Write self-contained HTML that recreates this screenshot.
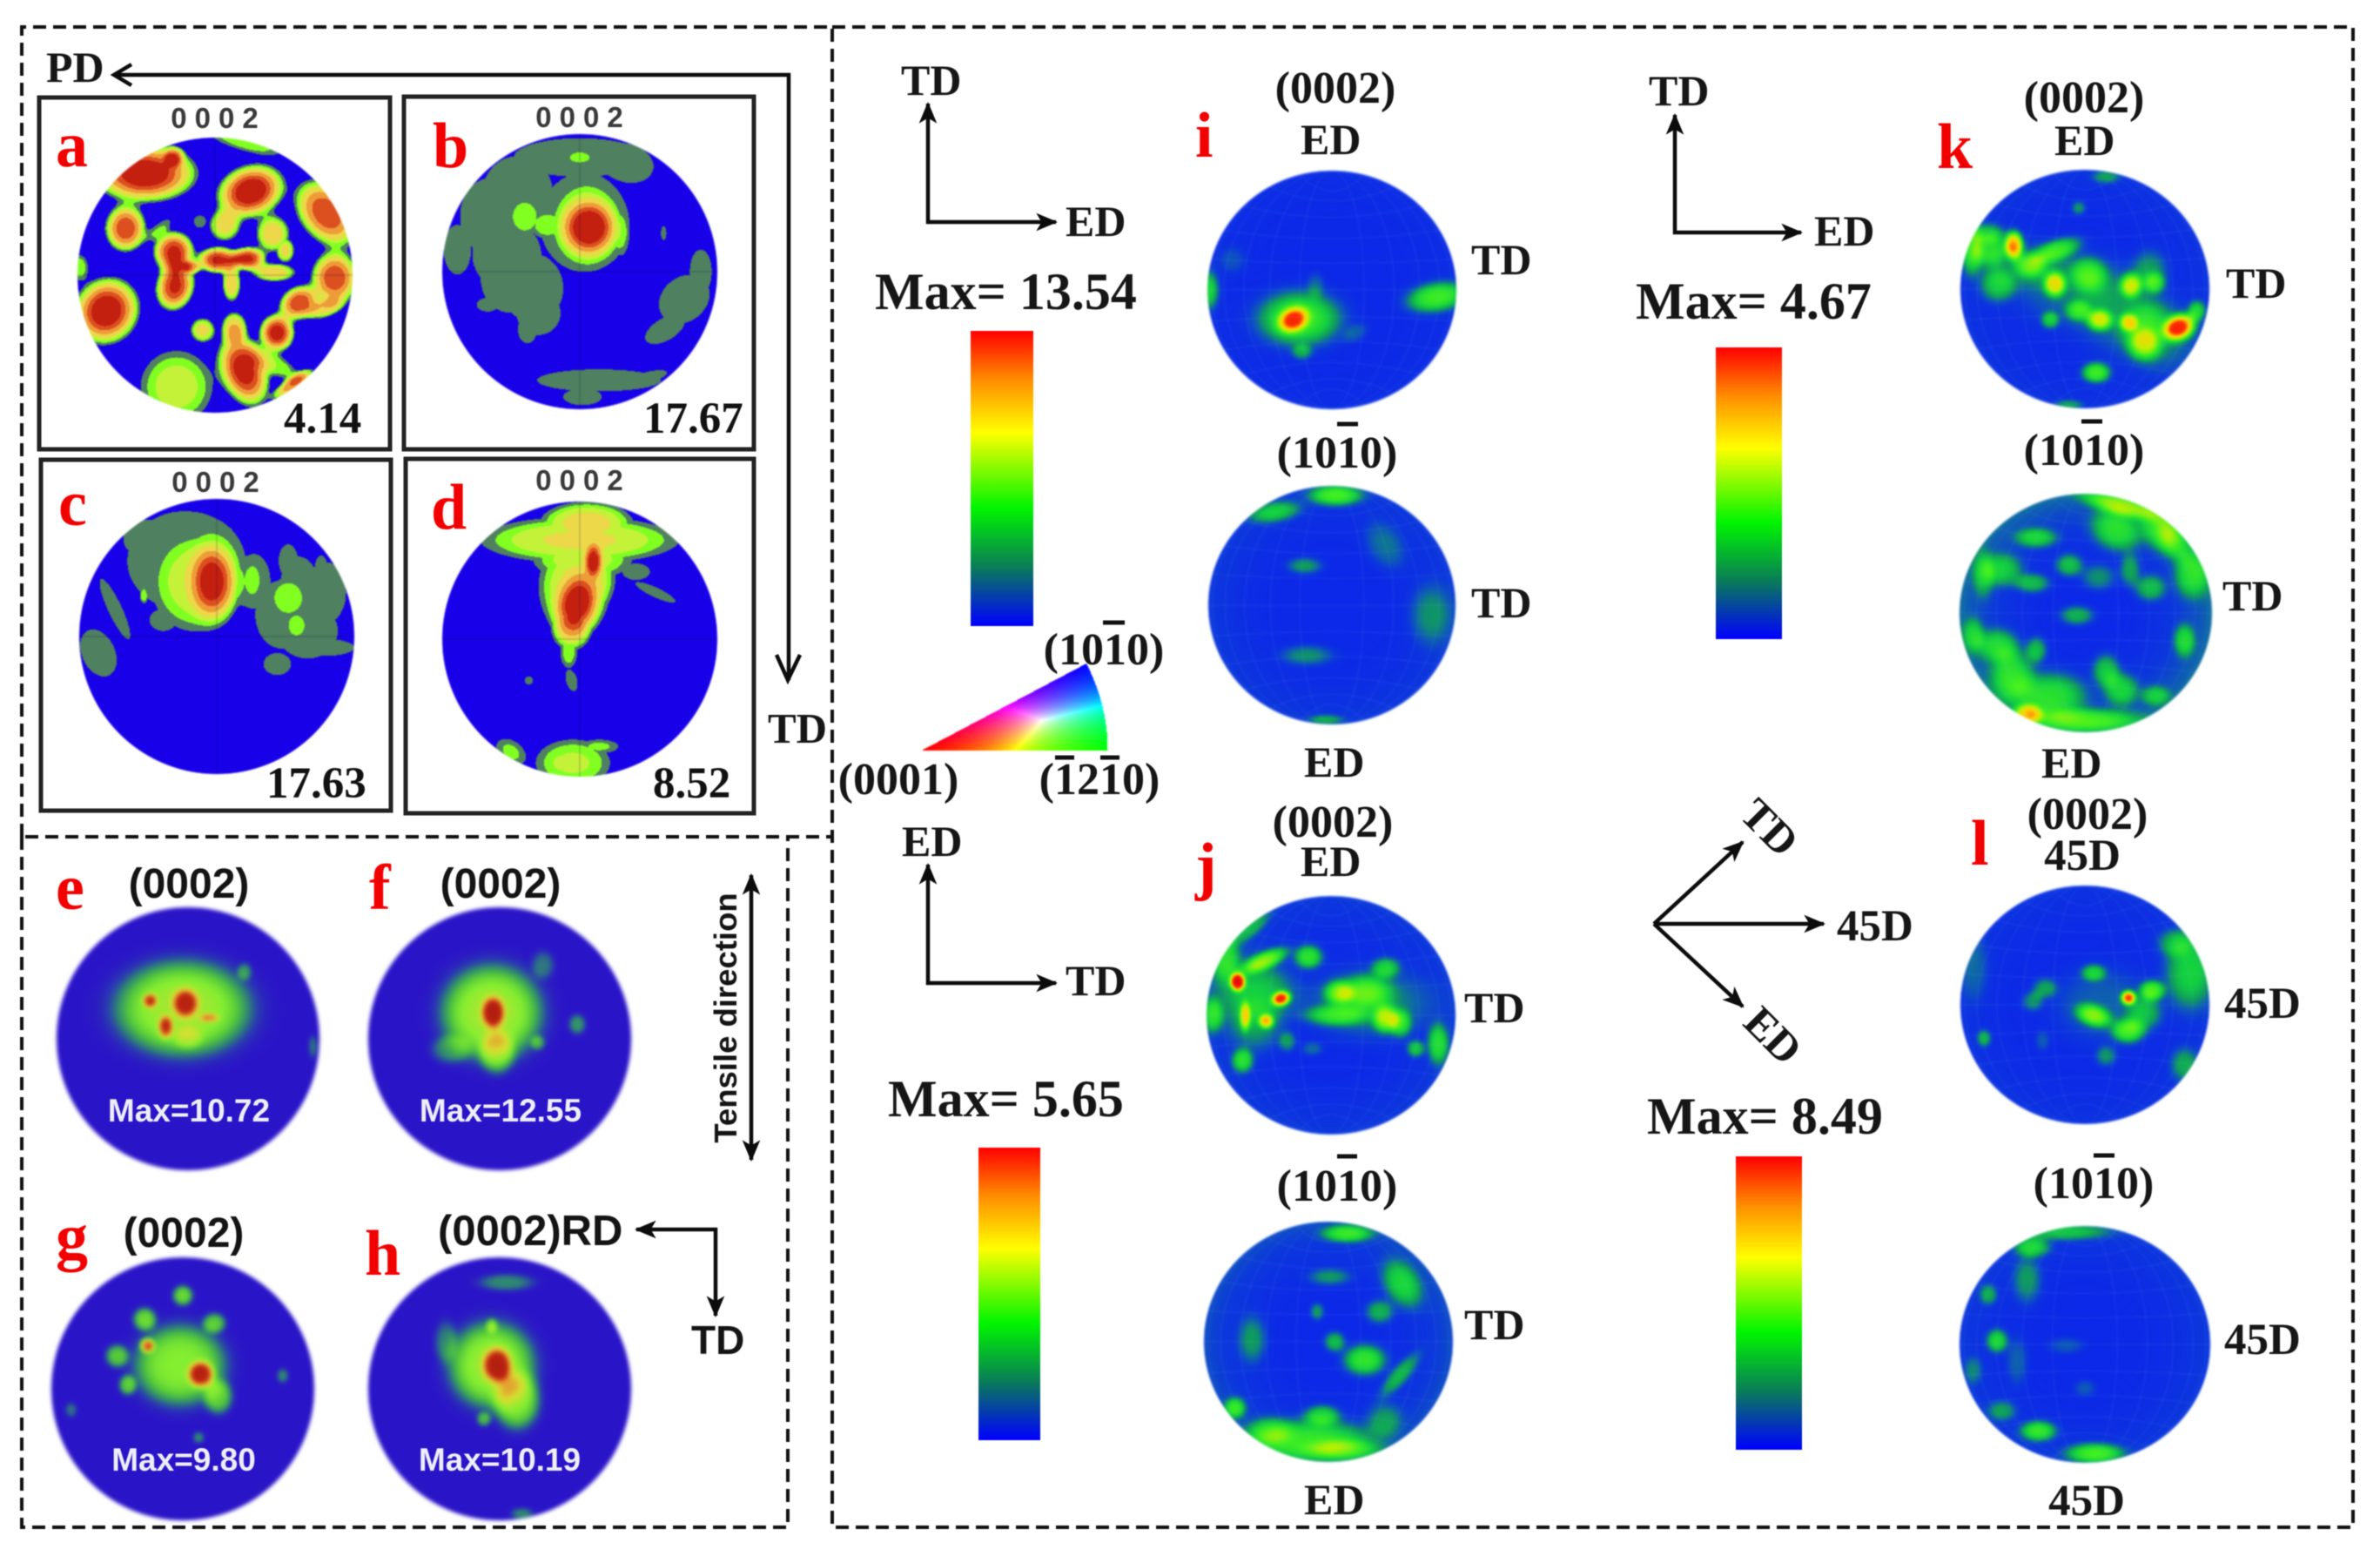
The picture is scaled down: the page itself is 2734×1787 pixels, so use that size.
<!DOCTYPE html>
<html lang="en">
<head>
<meta charset="utf-8">
<title>Pole figures</title>
<style>
html,body{margin:0;padding:0;background:#fff;}
#stage{position:relative;width:2734px;height:1787px;overflow:hidden;background:#fff;}
#stage canvas{position:absolute;}
#overlay{position:absolute;left:0;top:0;filter:blur(0.6px);}
.s{font-family:"Liberation Serif",serif;font-weight:700;fill:#161616;}
.h{font-family:"Liberation Sans",sans-serif;font-weight:700;fill:#141414;}
.z{font-family:"Liberation Sans",sans-serif;font-weight:700;fill:#3a3a3a;font-size:33px;letter-spacing:9px;text-anchor:middle;}
.m{font-family:"Liberation Sans",sans-serif;font-weight:700;fill:#eeeef8;font-size:37px;text-anchor:middle;}
.r{font-family:"Liberation Serif",serif;font-weight:700;fill:#f20000;font-size:74px;}
.v{font-family:"Liberation Serif",serif;font-weight:700;fill:#111;font-size:51px;}
.p{font-size:52px;text-anchor:middle;}
.l{font-size:50px;}
.x{font-size:60px;}
.d{fill:none;stroke:#111;stroke-width:4;stroke-dasharray:15 8;}
.b{fill:none;stroke:#222;stroke-width:5;}
.a{fill:none;stroke:#0c0c0c;stroke-width:4.5;}
.o{stroke:#111;stroke-width:5;}
</style>
</head>
<body>
<div id="stage">
<svg id="overlay" width="2734" height="1787" viewBox="0 0 2734 1787" xmlns="http://www.w3.org/2000/svg">
<defs>
<linearGradient id="cbar" x1="0" y1="0" x2="0" y2="1">
<stop offset="0" stop-color="#ff0000"/><stop offset="0.17" stop-color="#ff9000"/><stop offset="0.345" stop-color="#ffff00"/><stop offset="0.6" stop-color="#00f500"/><stop offset="0.8" stop-color="#0a7c58"/><stop offset="1" stop-color="#0000ff"/>
</linearGradient>
<marker id="tip" viewBox="0 0 12 12" refX="11" refY="6" markerWidth="5.5" markerHeight="5.5" markerUnits="strokeWidth" orient="auto-start-reverse"><path d="M0 1 L12 6 L0 11 L3 6 Z" fill="#0c0c0c"/></marker>
</defs>

<path class="d" d="M25 961 V31 H956 V961 H25"/>
<path class="d" d="M25 961 V1754 H905 V961"/>
<path class="d" d="M956 31 H2703 V1754 H956 V961"/>

<rect class="b" x="45" y="112" width="403" height="404"/>
<rect class="b" x="464" y="111" width="402" height="405"/>
<rect class="b" x="47" y="528" width="402" height="403"/>
<rect class="b" x="466" y="527" width="400" height="407"/>

<text class="s" style="font-size:50px" x="53" y="94">PD</text>
<path class="a" d="M131 86 H906 V781 M151 74 L131 86 L151 98 M892 752 L905 781 L919 752"/>
<text class="s" style="font-size:49px" x="882" y="853">TD</text>

<text class="z" x="251" y="147">0002</text>
<text class="z" x="670" y="146">0002</text>
<text class="z" x="252" y="565">0002</text>
<text class="z" x="670" y="563">0002</text>

<text class="r" x="64" y="191">a</text>
<text class="r" x="497" y="192">b</text>
<text class="r" x="67" y="603">c</text>
<text class="r" x="495" y="607">d</text>
<text class="r" x="64" y="1044">e</text>
<text class="r" x="424" y="1044">f</text>
<text class="r" x="64" y="1445">g</text>
<text class="r" x="419" y="1464">h</text>
<text class="r" x="1373" y="180">i</text>
<text class="r" x="1373" y="1019">j</text>
<text class="r" x="2225" y="193">k</text>
<text class="r" x="2264" y="993">l</text>

<text class="v" x="326" y="497">4.14</text>
<text class="v" x="739" y="497">17.67</text>
<text class="v" x="306" y="916">17.63</text>
<text class="v" x="750" y="916">8.52</text>

<text class="h" style="font-size:48px;text-anchor:middle" x="217" y="1031">(0002)</text>
<text class="h" style="font-size:48px;text-anchor:middle" x="575" y="1031">(0002)</text>
<text class="h" style="font-size:48px;text-anchor:middle" x="211" y="1432">(0002)</text>
<text class="h" style="font-size:49px" x="503" y="1430">(0002)RD</text>
<text class="h" style="font-size:46px" x="794" y="1555">TD</text>
<path class="a" style="marker-start:url(#tip);marker-end:url(#tip)" d="M731 1412 H822 V1511"/>
<text class="h" style="font-size:36.5px;text-anchor:middle" transform="translate(846 1169) rotate(-90)">Tensile direction</text>
<path class="a" style="marker-start:url(#tip);marker-end:url(#tip)" d="M863 1005 V1332"/>

<text class="m" x="217" y="1288">Max=10.72</text>
<text class="m" x="575" y="1288">Max=12.55</text>
<text class="m" x="211" y="1689">Max=9.80</text>
<text class="m" x="574" y="1689">Max=10.19</text>

<!-- panel i group -->
<text class="s l" x="1035" y="109">TD</text>
<path class="a" style="marker-start:url(#tip);marker-end:url(#tip)" d="M1066 119 V255 H1213"/>
<text class="s l" x="1224" y="271">ED</text>
<text class="s x" x="1005" y="355">Max= 13.54</text>
<rect x="1115" y="380" width="72" height="339" fill="url(#cbar)"/>
<text class="s p" x="1534" y="118">(0002)</text>
<text class="s l" x="1494" y="177">ED</text>
<text class="s l" x="1690" y="315">TD</text>
<text class="s p" x="1536" y="537">(1010)</text>
<line class="o" x1="1536" y1="487" x2="1560" y2="487"/>
<text class="s l" x="1690" y="709">TD</text>
<text class="s l" x="1498" y="892">ED</text>

<text class="s p" x="1268" y="763">(1010)</text>
<line class="o" x1="1267" y1="715" x2="1292" y2="715"/>
<text class="s p" x="1032" y="912">(0001)</text>
<text class="s p" x="1263" y="912">(1210)</text>
<line class="o" x1="1212" y1="870" x2="1234" y2="870"/>
<line class="o" x1="1264" y1="870" x2="1286" y2="870"/>

<!-- panel k group -->
<text class="s l" x="1894" y="121">TD</text>
<path class="a" style="marker-start:url(#tip);marker-end:url(#tip)" d="M1924 132 V267 H2069"/>
<text class="s l" x="2084" y="282">ED</text>
<text class="s x" x="1879" y="366">Max= 4.67</text>
<rect x="1971" y="399" width="76" height="335" fill="url(#cbar)"/>
<text class="s p" x="2394" y="129">(0002)</text>
<text class="s l" x="2360" y="178">ED</text>
<text class="s l" x="2557" y="342">TD</text>
<text class="s p" x="2394" y="534">(1010)</text>
<line class="o" x1="2391" y1="484" x2="2415" y2="484"/>
<text class="s l" x="2553" y="701">TD</text>
<text class="s l" x="2345" y="893">ED</text>

<!-- panel j group -->
<text class="s l" x="1036" y="983">ED</text>
<path class="a" style="marker-start:url(#tip);marker-end:url(#tip)" d="M1066 993 V1129 H1213"/>
<text class="s l" x="1224" y="1143">TD</text>
<text class="s x" x="1020" y="1282">Max= 5.65</text>
<rect x="1124" y="1318" width="71" height="336" fill="url(#cbar)"/>
<text class="s p" x="1531" y="961">(0002)</text>
<text class="s l" x="1494" y="1006">ED</text>
<text class="s l" x="1682" y="1174">TD</text>
<text class="s p" x="1536" y="1379">(1010)</text>
<line class="o" x1="1536" y1="1328" x2="1559" y2="1328"/>
<text class="s l" x="1682" y="1538">TD</text>
<text class="s l" x="1498" y="1739">ED</text>

<!-- panel l group -->
<path class="a" style="marker-end:url(#tip)" d="M1900 1061 H2095"/>
<path class="a" style="marker-end:url(#tip)" d="M1900 1061 L2002 967"/>
<path class="a" style="marker-end:url(#tip)" d="M1900 1061 L2002 1156"/>
<text class="s" style="font-size:51px" x="2110" y="1080">45D</text>
<text class="s l" style="text-anchor:middle" transform="translate(2021 962) rotate(45)">TD</text>
<text class="s l" style="text-anchor:middle" transform="translate(2025 1201) rotate(45)">ED</text>
<text class="s x" x="1892" y="1302">Max= 8.49</text>
<rect x="1994" y="1328" width="76" height="337" fill="url(#cbar)"/>
<text class="s p" x="2398" y="952">(0002)</text>
<text class="s" style="font-size:51px;text-anchor:middle" x="2392" y="999">45D</text>
<text class="s" style="font-size:51px" x="2555" y="1169">45D</text>
<text class="s p" x="2405" y="1376">(1010)</text>
<line class="o" x1="2405" y1="1327" x2="2429" y2="1327"/>
<text class="s" style="font-size:51px" x="2555" y="1555">45D</text>
<text class="s" style="font-size:51px;text-anchor:middle" x="2397" y="1740">45D</text>
</svg>
</div>
<script>
// Pole-figure intensity peaks: [u%, v%, radiusU%, radiusV%, tiltDeg, intensity]
const peaksA=[[-51,-74,36,20,0,1],[26,-61,24,18,-20,1],[81,-45,26,18,50,.85],[-65,-34,14,16,0,.85],[7,-36,10,10,0,.5],[-30,-17,14,14,0,.9],[2,-11,14,9,0,.9],[24,-12,12,8,0,.9],[-29,8,13,17,15,.9],[42,-30,11,12,0,.55],[43,-2,14,6,0,.55],[51,-18,6,8,0,.5],[87,2,16,18,0,.85],[61,20,14,11,-30,.85],[45,42,12,13,0,.95],[-79,26,22,24,40,1],[-9,40,8,8,0,.5],[14,38,8,10,0,.55],[21,69,16,26,-20,.95],[-28,81,24,24,0,.42],[57,79,16,5,-35,.7],[12,6,6,12,0,.55],[22,-97,24,6,15,.34],[80,24,12,6,-20,.5],[-99,-6,6,8,0,.34],[-11,-39,4,4,0,.26],[-17,-6,6,4,0,.5],[-40,-34,8,3,-40,.26],[-30,-86,6,6,0,.5],[44,65,16,6,30,.34]];
const peaksB=[[0,-83,48,14,0,.26],[34,-79,20,14,15,.26],[-45,-59,25,25,0,.26],[-65,-40,22,28,0,.26],[-53,-12,25,25,0,.26],[-34,12,22,25,0,.26],[-50,5,22,25,0,.26],[-30,30,16,16,0,.26],[-38,42,7,10,0,.26],[-89,-16,10,18,0,.26],[-67,24,8,5,0,.26],[76,20,20,16,-40,.26],[88,0,8,16,0,.26],[62,42,16,8,-30,.26],[14,79,45,8,0,.26],[2,91,14,6,0,.26],[49,77,15,4,-15,.26],[61,-28,2,5,0,.26],[5,-34,27,33,0,.45],[7,-32,18,18,0,.6],[-40,-40,12,14,0,.34],[-24,-34,12,10,0,.34],[0,-83,10,5,0,.34],[30,-28,6,16,0,.3],[3,-36,32,36,0,.26]];
const peaksC=[[-2,-40,16,26,0,.6],[-17,-40,31,36,0,.42],[-23,-55,42,36,0,.26],[-50,-71,18,14,0,.26],[-23,-83,22,8,0,.26],[26,-41,7,14,0,.34],[27,-40,12,20,0,.26],[52,-28,14,15,0,.34],[58,-8,8,10,0,.34],[52,-55,7,12,0,.26],[48,-16,20,25,0,.26],[66,-4,22,20,0,.26],[60,-36,14,22,0,.26],[80,-32,14,22,0,.26],[80,8,20,6,0,.26],[44,20,10,8,0,.26],[76,-47,5,12,0,.26],[-74,-20,5,24,-25,.26],[-86,12,12,18,-25,.26],[-53,-30,3,6,0,.34],[-39,-12,10,8,0,.26]];
const peaksD=[[-2,-24,14,22,15,.58],[10,-57,6,11,0,.56],[0,-72,72,17,0,.48],[5,-84,34,16,0,.52],[2,-58,36,15,0,.42],[-4,-38,26,34,0,.46],[8,-45,18,26,0,.44],[-6,-8,14,16,0,.42],[-8,10,6,11,0,.32],[-6,30,4,8,-15,.26],[-37,30,3,3,0,.24],[55,-34,16,3.5,25,.24],[41,-49,10,6,0,.26],[-5,90,27,17,0,.38],[-14,90,8,8,0,.44],[14,78,14,5,0,.3],[-50,82,12,8,35,.3],[64,84,8,4,-30,.3]];
const peaksE=[[-4,-23,47,33,0,.48],[-29,-29,5,5,0,.45],[-2,-27,9,10,0,.5],[-17,-9,5,8,0,.45],[16,-16,7,3,0,.3],[0,-1,10,8,0,.15],[43,-51,5,6,0,.18],[95,6,3,8,0,.15]];
const peaksF=[[-6,-20,35,33,0,.48],[-2,10,12,15,0,.3],[-5,-20,8,11,0,.55],[59,-11,6,7,0,.2],[29,3,5,5,0,.2],[-37,8,14,10,0,.17],[33,-56,8,10,0,.15]];
const peaksG=[[-2,-18,32,28,0,.42],[0,-71,7,7,0,.35],[-29,-53,8,8,0,.35],[24,-50,8,7,0,.3],[-50,-25,8,8,0,.3],[-42,-3,6,7,0,.3],[27,6,10,12,0,.3],[-27,-33,5,5,0,.6],[14,-11,9,9,-40,.6],[76,-10,4,5,0,.18],[-85,16,4,5,0,.15],[12,37,4,4,0,.18]];
const peaksH=[[-6,-18,30,30,0,.46],[13,9,16,20,0,.38],[-12,23,5,5,0,.25],[-2,-18,10,12,0,.55],[5,-81,20,6,0,.18],[-6,-48,4,5,0,.25],[17,95,8,4,0,.18],[-41,-36,8,15,0,.15]];
const peaksITop=[[-26,24,25,17,0,.42],[-31,25,9,7,-30,.55],[-24,52,6,5,0,.2],[84,6,18,9,-10,.42],[-99,0,6,12,0,.32],[19,36,8,5,-30,.12],[-13,-4,5,8,0,.12],[-80,-25,8,8,0,.1]];
const peaksIBottom=[[3,-92,15,6,0,.4],[-46,-78,15,6,-10,.28],[-22,-33,10,5,0,.22],[-20,42,15,6,0,.2],[43,-50,10,15,-30,.15],[80,8,12,18,0,.18],[-5,96,10,3,0,.2]];
const peaksJTop=[[-75,-28,4,5,0,.85],[-53,-46,14,5,-25,.42],[-40,-14,5,4,-20,.72],[-52,5,4,4,0,.5],[-69,1,3,8,0,.42],[-18,-49,8,7,0,.38],[-71,38,6,7,0,.35],[-95,0,6,10,0,.3],[-65,-73,14,5,-40,.22],[-85,-48,8,14,0,.28],[6,-19,8,7,0,.33],[28,-19,14,10,0,.3],[44,3,7,8,0,.4],[44,-40,8,6,0,.28],[4,0,18,6,0,.28],[56,7,6,8,0,.28],[86,24,6,12,0,.33],[68,28,5,5,0,.28],[-35,22,5,6,0,.2],[-15,28,6,4,0,.15],[30,-10,35,20,0,.2],[-57,-18,20,15,0,.16],[-65,-20,25,25,0,.14],[-60,10,15,15,0,.16]];
const peaksJBottom=[[15,-90,14,5,0,.35],[59,-48,10,15,-30,.3],[1,-54,12,5,0,.2],[41,-25,8,7,0,.25],[-9,-25,4,5,0,.22],[-61,-2,8,14,0,.2],[5,0,6,6,0,.28],[29,15,12,9,0,.4],[57,28,16,5,-50,.25],[-75,55,6,6,0,.35],[-15,82,35,12,0,.36],[-5,61,10,6,0,.3],[13,90,20,6,0,.22],[-47,74,12,8,0,.2],[45,65,10,10,0,.18]];
const peaksKTop=[[-57,-37,5,8,0,.7],[-76,-33,10,10,0,.3],[-91,-33,6,15,0,.33],[-70,-3,10,10,0,.26],[-22,-33,14,6,-20,.34],[-44,-20,9,7,0,.3],[-24,-4,6,7,0,.5],[3,-12,10,10,0,.3],[37,-3,6,7,0,.45],[56,-5,6,6,0,.26],[12,26,7,6,0,.45],[-5,18,7,6,0,.26],[35,28,5,5,0,.4],[48,47,9,9,0,.34],[76,32,9,7,-30,.8],[90,18,5,6,0,.3],[9,70,8,6,0,.42],[-28,26,5,5,0,.26],[-5,-68,4,4,0,.2],[17,-94,8,4,0,.2],[-13,97,8,3,0,.2],[52,-16,10,12,0,.2],[48,30,14,14,0,.16],[-10,0,30,22,0,.16],[-50,-20,25,15,0,.14],[30,20,25,25,0,.15],[60,40,20,20,0,.16],[-78,-47,10,6,0,.22]];
const peaksKBottom=[[28,-90,22,6,15,.4],[24,-69,15,12,30,.32],[59,-69,10,15,-30,.28],[-39,-63,12,6,0,.28],[-13,-40,8,7,0,.28],[-66,-36,12,10,0,.26],[-42,-25,10,6,0,.26],[35,-36,6,10,0,.22],[51,-21,9,8,0,.26],[84,-32,10,14,0,.28],[-7,2,10,6,0,.26],[78,23,6,10,0,.28],[-70,27,12,10,0,.28],[-39,31,6,8,0,.26],[-89,18,6,10,0,.22],[16,48,8,10,0,.28],[-58,52,12,16,0,.32],[-27,69,20,14,0,.32],[0,90,30,7,0,.34],[-46,85,8,6,0,.5],[28,64,10,10,0,.28],[55,69,8,6,0,.22],[-81,-32,6,14,0,.2],[10,-30,10,8,0,.2],[70,-60,8,14,-30,.2]];
const peaksLTop=[[35,-6,4,4,0,.75],[54,-12,7,6,0,.4],[7,9,10,6,20,.4],[7,-27,7,5,0,.28],[35,22,9,7,0,.38],[48,7,10,10,0,.22],[15,0,28,22,0,.14],[-32,-14,7,6,0,.22],[-42,-3,6,6,0,.2],[84,-27,14,22,0,.3],[72,-52,10,8,0,.2],[80,50,8,10,0,.22],[-81,28,4,5,0,.25],[17,43,6,6,0,.2],[-89,-31,8,20,0,.12],[-34,30,4,6,0,.12]];
const peaksLBottom=[[-15,-95,25,5,0,.25],[-42,-82,10,6,0,.3],[-46,-54,8,14,0,.2],[-77,-42,5,6,0,.22],[-70,-3,6,7,0,.33],[-89,22,5,8,0,.15],[-37,73,10,6,0,.38],[-66,56,8,6,0,.2],[8,92,16,6,0,.4],[-54,14,6,14,0,.13],[-15,1,10,5,0,.12],[0,37,6,5,0,.12]];

// Colour scales: [intensity, hex]
const contourLevels=[[0,'#1800e8'],[.2,'#4f8060'],[.28,'#80ff20'],[.36,'#c4f238'],[.46,'#ecd848'],[.6,'#ee9c38'],[.75,'#dc5020'],[.87,'#c42010']];
const blurScale=[[0,'#2a14c8'],[.08,'#2a3cb0'],[.18,'#2f8a70'],[.3,'#54c83c'],[.42,'#84ee30'],[.6,'#d8e030'],[.75,'#e89030'],[.9,'#c02810'],[1.2,'#a01010']];
const gridScale=[[0,'#0c28e8'],[.06,'#0c38dc'],[.14,'#0e60b0'],[.22,'#0f9a60'],[.32,'#12d040'],[.45,'#40f020'],[.6,'#c4f000'],[.75,'#ffd000'],[.9,'#ff3000'],[1.2,'#e00010']];

const discs=[
 ['pole-a',peaksA,'contour',247,316,158,158,0,1.08],
 ['pole-b',peaksB,'contour',666,312,158,158,0,1],
 ['pole-c',peaksC,'contour',249,731,158,158,0,1],
 ['pole-d',peaksD,'contour',666,734,158,158,0,1],
 ['pole-e',peaksE,'blur',216,1193,151,151,0,1],
 ['pole-f',peaksF,'blur',574,1193,151,151,0,1],
 ['pole-g',peaksG,'blur',210,1595,151,151,0,1],
 ['pole-h',peaksH,'blur',574,1595,151,151,0,1],
 ['pole-i-0002',peaksITop,'grid',1530,333,143,137,.02,1.2],
 ['pole-i-1010',peaksIBottom,'grid',1530,695,142,137,.06,1.25],
 ['pole-j-0002',peaksJTop,'grid',1529,1166,143,137,.06,1.25],
 ['pole-j-1010',peaksJBottom,'grid',1526,1541,143,138,.1,1.25],
 ['pole-k-0002',peaksKTop,'grid',2395,332,143,137,.04,1.25],
 ['pole-k-1010',peaksKBottom,'grid',2396,704,145,137,.16,1.2],
 ['pole-l-0002',peaksLTop,'grid',2395,1154,143,137,.04,1.25],
 ['pole-l-1010',peaksLBottom,'grid',2395,1544,144,136,.06,1.25]
];

function hex(c){return [parseInt(c.substr(1,2),16),parseInt(c.substr(3,2),16),parseInt(c.substr(5,2),16)];}
function colorAt(scale,f,stepped){
  let i=0;
  while(i<scale.length-1&&f>=scale[i+1][0])i++;
  const a=hex(scale[i][1]);
  if(stepped||i===scale.length-1)return a;
  const b=hex(scale[i+1][1]);
  const t=(f-scale[i][0])/(scale[i+1][0]-scale[i][0]);
  return [a[0]+(b[0]-a[0])*t,a[1]+(b[1]-a[1])*t,a[2]+(b[2]-a[2])*t];
}
function prepare(peaks,mode,size){
  return peaks.map(function(p){
    const k=mode==='contour'?Math.log(Math.max(p[5]/0.2,1.15)):(mode==='blur'?0.8:0.7);
    const th=p[4]*Math.PI/180;
    return {u:p[0]/100,v:p[1]/100,ru:p[2]/100*size,rv:p[3]/100*size,c:Math.cos(th),s:Math.sin(th),a:p[5],k:k};
  });
}
function fieldAt(list,u,v,mode,rim){
  let sum=0,flat=0;
  for(let i=0;i<list.length;i++){
    const g=list[i];
    const dx=u-g.u,dy=v-g.v;
    const x=(dx*g.c+dy*g.s)/g.ru,y=(-dx*g.s+dy*g.c)/g.rv;
    const r2=x*x+y*y;
    const shape=mode==='blur'?r2*r2:r2*Math.sqrt(r2);
    const val=g.a*Math.exp(-g.k*shape);
    if(mode==='contour'&&g.a<=0.55){if(val>flat)flat=val;}else sum+=val;
  }
  let f=flat+sum;
  if(rim){const d=Math.sqrt(u*u+v*v);f+=rim*d*d*d;}
  return f;
}
function drawDisc(d){
  const mode=d[2],cx=d[3],cy=d[4],rx=d[5],ry=d[6],rim=d[7];
  const pad=3,W=2*rx+2*pad,H=2*ry+2*pad;
  const cv=document.createElement('canvas');
  
  
  cv.width=W;cv.height=H;
  cv.style.left=(cx-rx-pad)+'px';
  cv.style.top=(cy-ry-pad)+'px';
  cv.style.filter=mode==='contour'?'blur(0.8px)':(mode==='blur'?'blur(2px)':'blur(1px)');
  const ctx=cv.getContext('2d');
  const img=ctx.createImageData(W,H);
  const scale=mode==='contour'?contourLevels:(mode==='blur'?blurScale:gridScale);
  const list=prepare(d[1],mode,d[8]);
  for(let y=0;y<H;y++){
    for(let x=0;x<W;x++){
      const u=(x-pad-rx+.5)/rx,v=(y-pad-ry+.5)/ry;
      const dist=Math.sqrt(u*u+v*v);
      const al=Math.max(0,Math.min(1,(1-dist)*Math.min(rx,ry)/1.5+.5));
      if(al<=0)continue;
      const c=colorAt(scale,fieldAt(list,u,v,mode,rim),mode==='contour');
      const o=4*(y*W+x);
      img.data[o]=c[0];img.data[o+1]=c[1];img.data[o+2]=c[2];img.data[o+3]=al*255;
    }
  }
  ctx.putImageData(img,0,0);
  ctx.save();
  ctx.beginPath();
  ctx.ellipse(pad+rx,pad+ry,rx,ry,0,0,Math.PI*2);
  ctx.clip();
  if(mode==='contour'){
    ctx.strokeStyle='rgba(0,0,70,.28)';
    ctx.lineWidth=1;
    ctx.beginPath();
    ctx.moveTo(pad,pad+ry);ctx.lineTo(pad+2*rx,pad+ry);
    ctx.moveTo(pad+rx,pad);ctx.lineTo(pad+rx,pad+2*ry);
    ctx.stroke();
  }
  if(mode==='grid'){
    ctx.strokeStyle='rgba(150,215,255,.12)';
    ctx.lineWidth=1;
    for(let k=1;k<=5;k++){
      ctx.beginPath();
      ctx.ellipse(pad+rx,pad+ry,rx*Math.sin(k*Math.PI/12),ry,0,0,Math.PI*2);
      ctx.stroke();
    }
    for(let k=-5;k<=5;k++){
      const s=Math.sin(k*Math.PI/12),w=Math.cos(k*Math.PI/12);
      ctx.beginPath();
      ctx.moveTo(pad+rx-rx*w,pad+ry+ry*s);
      ctx.quadraticCurveTo(pad+rx,pad+ry+ry*s*.72,pad+rx+rx*w,pad+ry+ry*s);
      ctx.stroke();
    }
  }
  ctx.restore();
  document.getElementById('stage').insertBefore(cv,document.getElementById('overlay'));
}
discs.forEach(drawDisc);

function drawKey(){
  const left=1055,top=760,W=222,H=106,ax=1059-left,ay=861-top;
  const maxAngle=Math.atan2(96,182),maxRad=213;
  const cv=document.createElement('canvas');
  
  
  cv.width=W;cv.height=H;
  cv.style.left=left+'px';cv.style.top=top+'px';
  cv.style.filter='blur(0.7px)';
  const ctx=cv.getContext('2d');
  const img=ctx.createImageData(W,H);
  for(let y=0;y<H;y++){
    for(let x=0;x<W;x++){
      const dx=x-ax,dy=ay-y;
      if(dy<0||dx<=0)continue;
      const ang=Math.atan2(dy,dx),rad=Math.sqrt(dx*dx+dy*dy);
      if(ang>maxAngle||rad>maxRad)continue;
      const t=ang/maxAngle,n=rad/maxRad;
      const a=1-n,b=n*t,c=n*(1-t);
      const m=Math.max(a,b,c);
      const o=4*(y*W+x);
      img.data[o]=255*a/m;img.data[o+1]=255*c/m;img.data[o+2]=255*b/m;img.data[o+3]=255;
    }
  }
  ctx.putImageData(img,0,0);
  document.getElementById('stage').insertBefore(cv,document.getElementById('overlay'));
}
drawKey();
</script>
</body>
</html>
